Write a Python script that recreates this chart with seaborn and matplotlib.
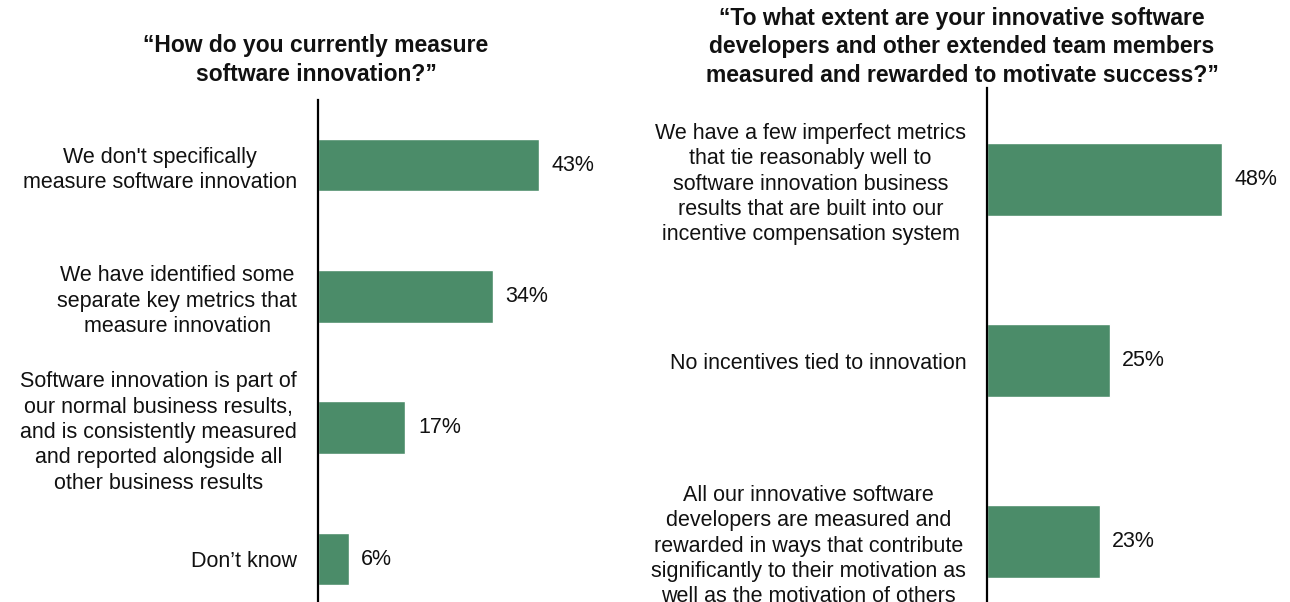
import matplotlib
matplotlib.use("Agg")
import matplotlib.pyplot as plt
import pandas as pd
import seaborn as sns

# Survey answers and shares (percent of respondents)
measure_answers = [
    "We don't specifically\nmeasure software innovation",
    "We have identified some\nseparate key metrics that\nmeasure innovation",
    "Software innovation is part of\nour normal business results,\nand is consistently measured\nand reported alongside all\nother business results",
    "Don\u2019t know",
]
measure_pct = [43, 34, 17, 6]

reward_answers = [
    "We have a few imperfect metrics\nthat tie reasonably well to\nsoftware innovation business\nresults that are built into our\nincentive compensation system",
    "No incentives tied to innovation",
    "All our innovative software\ndevelopers are measured and\nrewarded in ways that contribute\nsignificantly to their motivation as\nwell as the motivation of others",
]
reward_pct = [48, 25, 23]

measure_title = "\u201cHow do you currently measure\nsoftware innovation?\u201d"
reward_title = ("\u201cTo what extent are your innovative software\n"
                "developers and other extended team members\n"
                "measured and rewarded to motivate success?\u201d")

BAR_COLOR = "#4B8C69"
FONT = ["Liberation Sans", "DejaVu Sans"]
LABEL_SIZE = 15.5
TITLE_SIZE = 16.5

sns.set_theme(style="white")
plt.rcParams["font.family"] = FONT
plt.rcParams["text.color"] = "#111111"

W, H = 1290, 602
fig = plt.figure(figsize=(W / 100, H / 100), dpi=100)


def px_axes(left, top, right, bottom):
    return fig.add_axes([left / W, 1 - bottom / H, (right - left) / W, (bottom - top) / H])


def draw_panel(ax, answers, pct, xmax, ylim):
    df = pd.DataFrame({"answer": answers, "pct": pct})
    sns.barplot(data=df, x="pct", y="answer", color=BAR_COLOR, width=0.40,
                orient="h", ax=ax, saturation=1)
    ax.set_xlim(0, xmax)
    ax.set_ylim(*ylim)
    ax.set_xlabel("")
    ax.set_ylabel("")
    ax.set_xticks([])
    for side in ("top", "right", "bottom"):
        ax.spines[side].set_visible(False)
    ax.spines["left"].set_color("black")
    ax.spines["left"].set_linewidth(1.6)
    ax.tick_params(axis="y", length=0, pad=15)
    for t in ax.get_yticklabels():
        t.set_fontsize(LABEL_SIZE)
        t.set_multialignment("center")
        t.set_linespacing(1.27)
        t.set_color("#111111")
    ax.bar_label(ax.containers[0], labels=[f"{v}%" for v in pct],
                 padding=9, fontsize=LABEL_SIZE, color="#111111")
    ax.patch.set_alpha(0)


ax1 = px_axes(318, 100, 640, 602)
draw_panel(ax1, measure_answers, measure_pct, 322 / 5.14, (3.327, -0.495))

ax2 = px_axes(987, 88, 1290, 602)
draw_panel(ax2, reward_answers, reward_pct, 303 / 4.9, (2.334, -0.506))

fig.text(316 / W, 1 - 60 / H, measure_title, ha="center", va="center",
         multialignment="center", fontsize=TITLE_SIZE, fontweight="bold", linespacing=1.33)
fig.text(962 / W, 1 - 47 / H, reward_title, ha="center", va="center",
         multialignment="center", fontsize=TITLE_SIZE, fontweight="bold", linespacing=1.33)

fig.savefig("out.png", dpi=100)
